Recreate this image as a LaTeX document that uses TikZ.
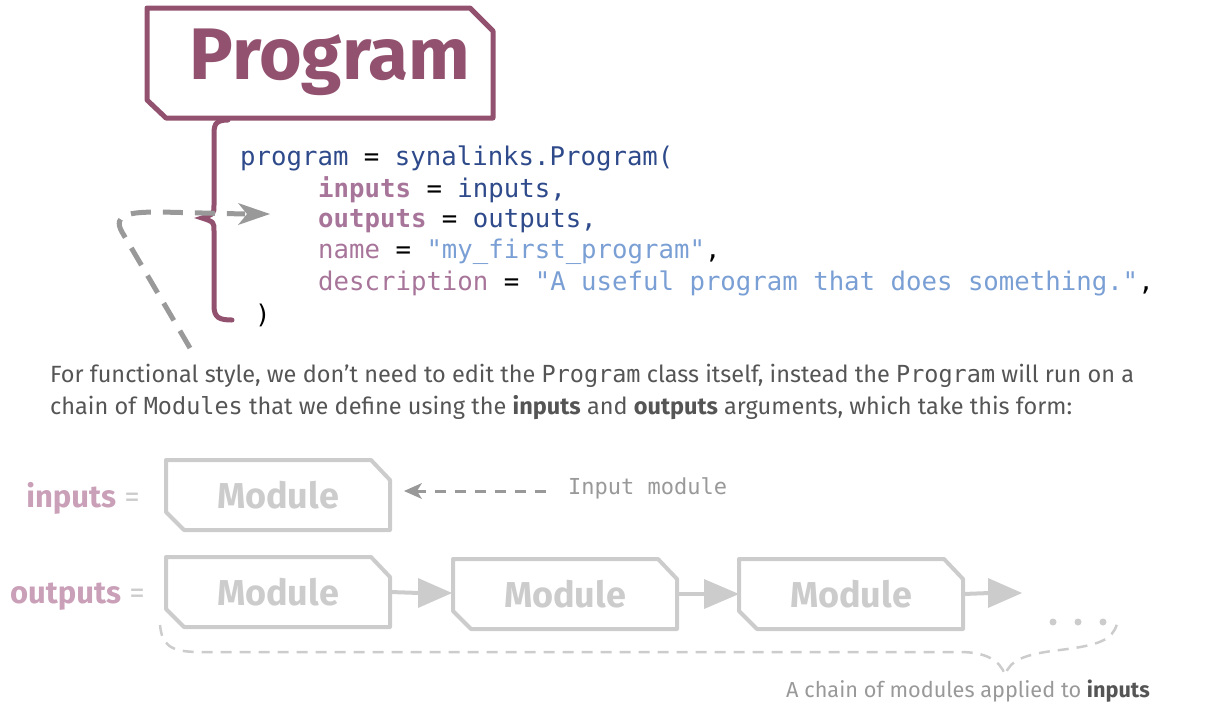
\documentclass[tikz,border=0pt]{standalone}
\usepackage{fontspec}
\setmainfont{Fira Sans}
\setmonofont{DejaVu Sans Mono}
\usetikzlibrary{arrows.meta}
\definecolor{prog}{HTML}{92526F}
\definecolor{kw}{HTML}{A8759A}
\definecolor{dblue}{HTML}{2E4A8A}
\definecolor{lblue}{HTML}{7A9FD4}
\definecolor{lgray}{HTML}{CCCCCC}
\definecolor{mgray}{HTML}{999999}
\definecolor{tgray}{HTML}{555555}
\definecolor{pink}{HTML}{C9A0B8}
\begin{document}
\begin{tikzpicture}[x=1pt,y=-1pt,
  code/.style={anchor=west,inner sep=0pt,font=\fontsize{25.7}{25.7}\ttfamily},
  modbox/.style={draw=none,minimum width=224pt,minimum height=70pt,inner sep=0pt,text=lgray,font=\fontsize{36}{36}\bfseries},
  flow/.style={draw=lgray,line width=4pt}]
\useasboundingbox (0,0) rectangle (1210,713);
% Program box
\draw[prog,line width=5pt,line join=round] (147,8) -- (470,8) -- (493,31) -- (493,118) -- (166,118) -- (147,100) -- cycle;
\node[text=prog,font=\fontsize{73}{73}\bfseries] (prog) at (330,62) {Program};
% brace
\draw[prog,line width=5pt,line cap=round] (228,120) .. controls (214,120) and (214,126) .. (214,136) -- (214,205) .. controls (214,214) .. (202,218) .. controls (214,222) .. (214,231) -- (214,306) .. controls (214,318) and (220,320) .. (232,320);
% dashed loop
\coordinate (ls) at (190,348);
\coordinate (le) at (245,214);
\draw[mgray,line width=5pt,dash pattern=on 20pt off 12pt] (ls) -- (122,232) .. controls (112,214) and (130,212) .. (160,212) -- (le);
\fill[mgray] (270,214) -- (238,203) -- (247,214) -- (238,225) -- cycle;
% code
\node[code,text=dblue] (c1) at (240,158) {program \textcolor{black}{=} synalinks.Program(};
\node[code,text=dblue] (c2) at (318,190) {\textcolor{kw}{\bfseries inputs} \textcolor{black}{=} inputs,};
\node[code,text=dblue] (c3) at (318,221) {\textcolor{kw}{\bfseries outputs} \textcolor{black}{=} outputs,};
\node[code,text=lblue] (c4) at (318,252) {\textcolor{kw}{name} \textcolor{black}{=} "my\_first\_program"\textcolor{black}{,}};
\node[code,text=lblue] (c5) at (318,283) {\textcolor{kw}{description} \textcolor{black}{=} "A useful program that does something."\textcolor{black}{,}};
\node[code,text=black] (c6) at (255,315) {)};
% paragraph
\node[anchor=west,inner sep=0pt,text=tgray,font=\fontsize{23.5}{23.5}\selectfont] (p1) at (50,376) {For functional style, we don’t need to edit the \texttt{Program} class itself, instead the \texttt{Program} will run on a};
\node[anchor=west,inner sep=0pt,text=tgray,font=\fontsize{23.5}{23.5}\selectfont] (p2) at (50,408) {chain of \texttt{Modules} that we define using the \textbf{inputs} and \textbf{outputs} arguments, which take this form:};
% modules
\foreach \n/\x/\y in {mi/166/460, m1/166/557, m2/453/559, m3/739/559}{
  \draw[lgray,line width=4pt,line join=round] (\x,\y) -- (\x+205,\y) -- (\x+224,\y+20) -- (\x+224,\y+70) -- (\x+18,\y+70) -- (\x,\y+52) -- cycle;
  \node[modbox] (\n) at (\x+112,\y+35) {Module};
}
\node[anchor=east,inner sep=0pt,font=\fontsize{31}{31}\selectfont] (li) at (140,498) {\textcolor{pink}{\bfseries inputs} \textcolor{lgray}{=}};
\node[anchor=east,inner sep=0pt,font=\fontsize{31}{31}\selectfont] (lo) at (145,597) {\textcolor{pink}{\bfseries outputs} \textcolor{lgray}{=}};
\draw[flow] (m1.east) -- (420,593);
\fill[lgray] (452,593) -- (418,578) -- (418,608) -- cycle;
\draw[flow] (m2.east) -- (706,594);
\fill[lgray] (739,594) -- (704,579) -- (704,609) -- cycle;
\coordinate (fe) at (990,593);
\draw[flow] (m3.east) -- (fe);
\fill[lgray] (1022,593) -- (988,578) -- (988,608) -- cycle;
% input module label
\node[anchor=west,inner sep=0pt,text=mgray,font=\fontsize{22}{22}\ttfamily] (im) at (568,488) {Input module};
\coordinate (da) at (546,491);
\draw[mgray,line width=3pt,dash pattern=on 11pt off 9pt] (da) -- (414,491);
\fill[mgray] (404,491) -- (422,483) -- (417,491) -- (422,499) -- cycle;
% dots
\foreach \x in {1053,1078,1103} \fill[lgray] (\x,622) circle (3.5pt);
% dashed brace
\draw[lgray,line width=2.5pt,dash pattern=on 11pt off 8pt] (160,625) .. controls (162,645) and (170,652) .. (200,652) -- (960,652) .. controls (985,652) and (1000,660) .. (1005,675) .. controls (1010,660) and (1025,654) .. (1060,650) .. controls (1100,645) and (1112,640) .. (1117,624);
\node[anchor=east,inner sep=0pt,text=mgray,font=\fontsize{21.7}{21.7}\selectfont] (chain) at (1150,691) {A chain of modules applied to \textbf{\textcolor{tgray}{inputs}}};
\end{tikzpicture}
\end{document}
